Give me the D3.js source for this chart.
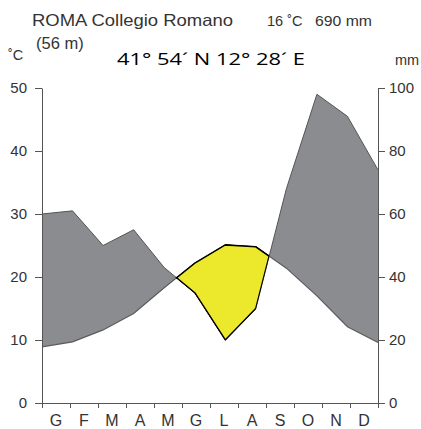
<!DOCTYPE html>
<html>
<head>
<meta charset="utf-8">
<script src="https://cdn.jsdelivr.net/npm/d3@7"></script>
<style>
  body { margin: 0; background: #fff; }
  svg { display: block; font-family: "Liberation Sans", Arial, sans-serif; }
  .axis path, .axis line { stroke: #555; }
  .axis text { font-size: 15px; fill: #333; font-family: "Liberation Sans", Arial, sans-serif; }
</style>
</head>
<body>
<svg width="421" height="429"></svg>
<script>
// mesi in italiano (G F M A M G L A S O N D)
const months = ['G', 'F', 'M', 'A', 'M', 'G', 'L', 'A', 'S', 'O', 'N', 'D'];
const temperature = [8.9, 9.7, 11.6, 14.2, 18.3, 22.2, 25.1, 24.8, 21.4, 17.0, 12.1, 9.6];
const precipitation = [60, 61, 50, 55, 43, 35, 20, 30, 68, 98, 91, 74];
const tempTicks = [0, 10, 20, 30, 40, 50];
const precTicks = [0, 20, 40, 60, 80, 100];

const mLeft = 42, mRight = 378, mTop = 88, mBottom = 403;

// i punti dei mesi vanno da un asse all'altro
const x = d3.scaleLinear().domain([0, months.length - 1]).range([mLeft, mRight]);
// per le etichette e le tacche dei mesi
const xMonth = d3.scaleLinear().domain([0, months.length]).range([mLeft, mRight]);
const yT = d3.scaleLinear().domain([0, 50]).range([mBottom, mTop]);
const yP = d3.scaleLinear().domain([0, 100]).range([mBottom, mTop]);

const svg = d3.select('svg');
const idx = d3.range(months.length);
const defs = svg.append('defs');

// zona sopra la curva della temperatura (umida) e zona arida (sotto T, sopra P)
defs.append('clipPath').attr('id', 'aboveT')
  .append('path')
  .attr('d', d3.area().x(i => x(i)).y0(0).y1(i => yT(temperature[i]))(idx));
defs.append('clipPath').attr('id', 'belowT')
  .append('path')
  .attr('d', d3.area().x(i => x(i)).y0(i => yT(temperature[i]) - 1.2).y1(429)(idx));
defs.append('clipPath').attr('id', 'aboveP')
  .append('path')
  .attr('d', d3.area().x(i => x(i)).y0(0).y1(i => yP(precipitation[i]) + 1.2)(idx));

const band = d3.area()
  .x(i => x(i))
  .y0(i => yT(temperature[i]))
  .y1(i => yP(precipitation[i]));

svg.append('path')
  .attr('d', band(idx))
  .attr('clip-path', 'url(#aboveT)')
  .attr('fill', '#8b8c8f');

const line = d3.line().x(i => x(i));
svg.append('path')
  .attr('d', line.y(i => yT(temperature[i]))(idx))
  .attr('fill', 'none')
  .attr('stroke', '#5a5a5c')
  .attr('stroke-width', 1.2);
svg.append('path')
  .attr('d', line.y(i => yP(precipitation[i]))(idx))
  .attr('fill', 'none')
  .attr('stroke', '#555')
  .attr('stroke-width', 1);

svg.append('g')
  .attr('clip-path', 'url(#belowT)')
  .append('path')
  .attr('d', band(idx))
  .attr('clip-path', 'url(#aboveP)')
  .attr('fill', '#ece82b')
  .attr('stroke', '#000')
  .attr('stroke-width', 1.6)
  .attr('stroke-linejoin', 'round');

// assi
svg.append('g')
  .attr('class', 'axis')
  .attr('transform', `translate(${mLeft},0)`)
  .call(d3.axisLeft(yT).tickValues(tempTicks).tickSize(7).tickSizeOuter(0).tickPadding(8));

svg.append('g')
  .attr('class', 'axis')
  .attr('transform', `translate(${mRight},0)`)
  .call(d3.axisRight(yP).tickValues(precTicks).tickSize(7).tickSizeOuter(0).tickPadding(4));

svg.append('g')
  .attr('class', 'axis')
  .attr('transform', `translate(0,${mBottom})`)
  .call(d3.axisBottom(xMonth).tickValues(d3.range(months.length + 1)).tickSize(5).tickSizeOuter(0).tickFormat(''));

svg.append('g')
  .selectAll('text')
  .data(months)
  .join('text')
  .attr('x', (d, i) => xMonth(i + 0.5))
  .attr('y', 426)
  .attr('text-anchor', 'middle')
  .attr('font-size', 16)
  .attr('fill', '#333')
  .text(d => d);

// testi
svg.append('text').attr('x', 32).attr('y', 26).attr('font-size', 16.5)
  .attr('fill', '#333').attr('textLength', 201).attr('lengthAdjust', 'spacingAndGlyphs')
  .text('ROMA Collegio Romano');
svg.append('text').attr('x', 267).attr('y', 26).attr('font-size', 14.5)
  .attr('fill', '#333').text('16 ˚C');
svg.append('text').attr('x', 315).attr('y', 26).attr('font-size', 14.5)
  .attr('fill', '#333').attr('textLength', 57).attr('lengthAdjust', 'spacingAndGlyphs')
  .text('690 mm');
svg.append('text').attr('x', 36).attr('y', 49).attr('font-size', 16.5)
  .attr('fill', '#333').text('(56 m)');
svg.append('text').attr('x', 8).attr('y', 60).attr('font-size', 14.5)
  .attr('fill', '#333').text('˚C');
svg.append('text').attr('x', 395).attr('y', 65).attr('font-size', 14.5)
  .attr('fill', '#333').text('mm');
svg.append('text').attr('x', 117).attr('y', 65).attr('font-size', 16.5)
  .attr('font-family', '"Open Sans", "Noto Sans", sans-serif')
  .attr('fill', '#000').attr('textLength', 188).attr('lengthAdjust', 'spacingAndGlyphs')
  .text('41° 54´ N 12° 28´ E');
</script>
</body>
</html>
